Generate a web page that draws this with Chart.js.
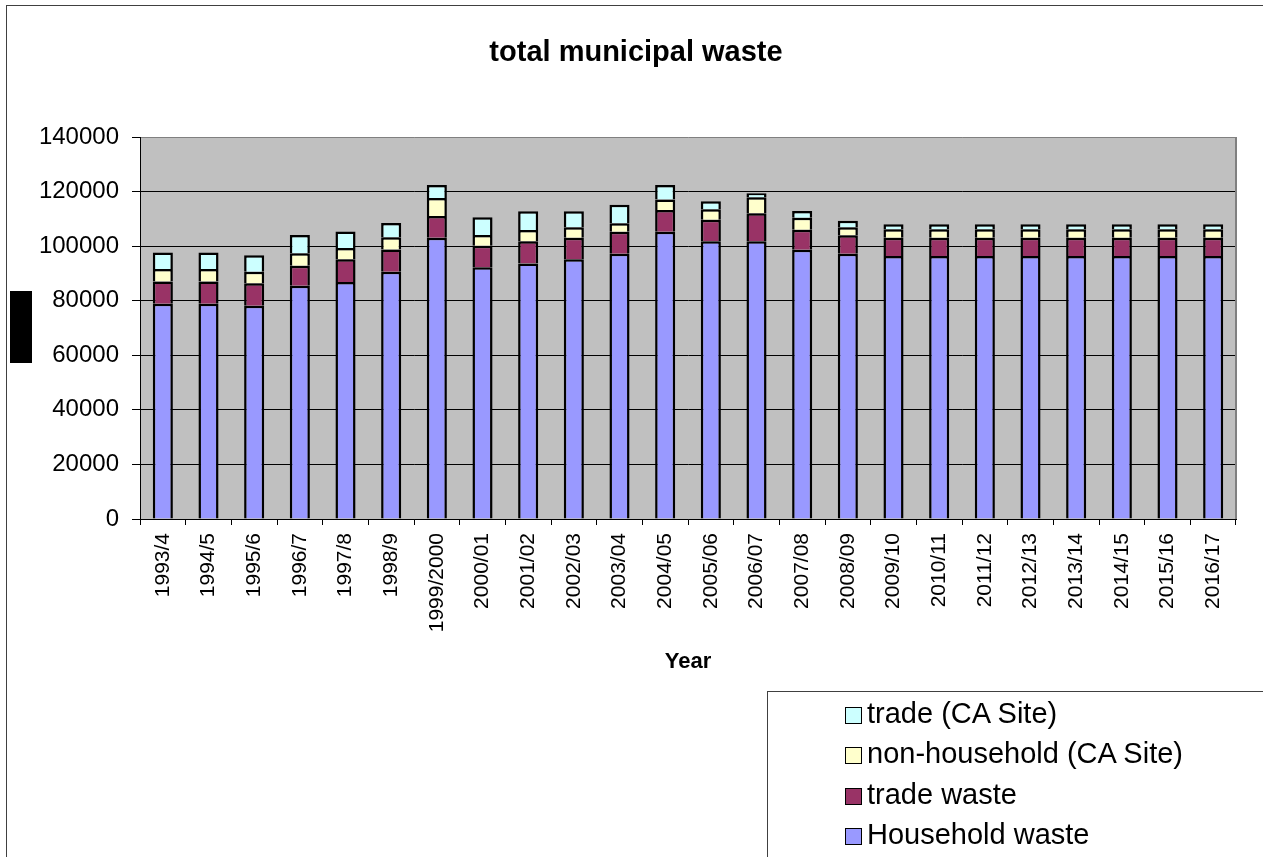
<!DOCTYPE html>
<html>
<head>
<meta charset="utf-8">
<title>total municipal waste</title>
<script src="https://cdn.jsdelivr.net/npm/chart.js@4/dist/chart.umd.min.js"></script>
<style>
  body { margin: 0; background: #fff; }
  #wrap { position: relative; width: 1263px; height: 857px; overflow: hidden; }
  #grafico { position: absolute; left: 0; top: 0; }
  #leyenda {
    position: absolute; left: 767px; top: 691px; width: 600px; height: 300px;
    border-left: 1px solid #404040; border-top: 1px solid #404040;
    font-family: "Liberation Sans", Arial, sans-serif; font-size: 29px; color: #000;
  }
  .item { position: absolute; left: 77px; height: 34px; line-height: 34px; white-space: nowrap; }
  .item span.caja {
    display: inline-block; width: 15px; height: 15px; border: 1.5px solid #000;
    margin-right: 5px; vertical-align: -1px;
  }
</style>
</head>
<body>
<div id="wrap">
  <canvas id="grafico" width="1263" height="857"></canvas>
  <div id="leyenda"></div>
</div>
<script>
// años fiscales
const anios = ["1993/4", "1994/5", "1995/6", "1996/7", "1997/8", "1998/9", "1999/2000",
  "2000/01", "2001/02", "2002/03", "2003/04", "2004/05", "2005/06", "2006/07", "2007/08",
  "2008/09", "2009/10", "2010/11", "2011/12", "2012/13", "2013/14", "2014/15", "2015/16", "2016/17"];

// toneladas por tipo de residuo
const residuoDomestico = [78900, 78900, 78200, 85500, 86900, 90600, 103100, 92250, 93600, 95200,
  97200, 105300, 101800, 101800, 98700, 97200, 96400, 96400, 96400, 96400, 96400, 96400, 96400, 96400];
const residuoComercial = [8100, 8100, 8200, 7300, 8300, 8200, 7950, 7900, 8200, 7900,
  8100, 7950, 7900, 10250, 7350, 6750, 6700, 6700, 6700, 6700, 6700, 6700, 6700, 6700];
const noDomesticoCA = [4650, 4650, 4250, 4550, 4150, 4500, 6600, 3900, 4150, 3800,
  3050, 3800, 3800, 5850, 4400, 2950, 3050, 3050, 3050, 3050, 3050, 3050, 3050, 3050];
const comercialCA = [6000, 6000, 6000, 6700, 6000, 5150, 4750, 6500, 6850, 5850,
  6800, 5400, 2950, 1450, 2450, 2400, 1850, 1850, 1850, 1850, 1850, 1850, 1850, 1850];

// marcas del eje y
const marcasY = [0, 20000, 40000, 60000, 80000, 100000, 120000, 140000];

const titulo = "total municipal waste";
const fuente = '"Liberation Sans", Arial, sans-serif';

const series = [
  { label: "Household waste", data: residuoDomestico, color: "#9999FF" },
  { label: "trade waste", data: residuoComercial, color: "#993366" },
  { label: "non-household (CA Site)", data: noDomesticoCA, color: "#FFFFCC" },
  { label: "trade (CA Site)", data: comercialCA, color: "#CCFFFF" }
];

// fondo gris, título, borde del gráfico y bloque negro a la izquierda
const decoracion = {
  id: "decoracion",
  beforeDraw(chart) {
    const { ctx, chartArea } = chart;
    ctx.save();
    ctx.fillStyle = "#C0C0C0";
    ctx.fillRect(chartArea.left, chartArea.top, chartArea.right - chartArea.left, chartArea.bottom - chartArea.top);
    ctx.restore();
  },
  afterDraw(chart) {
    const { ctx, chartArea } = chart;
    ctx.save();
    ctx.strokeStyle = "#808080";
    ctx.lineWidth = 2;
    ctx.beginPath();
    ctx.moveTo(chartArea.right, chartArea.top);
    ctx.lineTo(chartArea.right, chartArea.bottom);
    ctx.stroke();
    ctx.strokeStyle = "#404040";
    ctx.lineWidth = 1;
    ctx.strokeRect(6.5, 5.5, 1400, 1000);
    ctx.fillStyle = "#000";
    ctx.fillRect(10, 291, 22, 72);
    ctx.font = "bold 29px " + fuente;
    ctx.textAlign = "center";
    ctx.textBaseline = "middle";
    ctx.fillText(titulo, 636, 53);
    ctx.restore();
  }
};

const ctx = document.getElementById("grafico").getContext("2d");
const grafico = new Chart(ctx, {
  type: "bar",
  data: {
    labels: anios,
    datasets: series.map(s => ({
      label: s.label,
      data: s.data,
      backgroundColor: s.color,
      borderColor: "#000",
      borderWidth: 2.5,
      barPercentage: 0.44,
      categoryPercentage: 1
    }))
  },
  options: {
    responsive: false,
    animation: false,
    layout: { padding: { left: 0, right: 27, top: 137, bottom: 0 } },
    plugins: {
      legend: { display: false },
      tooltip: { enabled: false },
      title: { display: false }
    },
    scales: {
      x: {
        stacked: true,
        afterFit(scale) { scale.height = 338; },
        grid: { display: true, drawOnChartArea: false, drawTicks: true, tickLength: 6, color: "#000", offset: true },
        border: { color: "#000", width: 1 },
        ticks: {
          color: "#000", autoSkip: false, minRotation: 90, maxRotation: 90, padding: 8,
          font: { family: fuente, size: 21 }
        },
        title: {
          display: true, text: "Year", color: "#000",
          font: { family: fuente, size: 22, weight: "bold" },
          padding: { top: 4, bottom: 182 }
        }
      },
      y: {
        stacked: true,
        min: marcasY[0],
        max: marcasY[marcasY.length - 1],
        afterFit(scale) { scale.width = 140; },
        afterBuildTicks(scale) { scale.ticks = marcasY.map(v => ({ value: v })); },
        grid: {
          color: c => (c.tick && c.tick.value === 140000 ? "#808080" : "#000"),
          tickColor: "#000",
          tickLength: 8,
          lineWidth: 1
        },
        border: { color: "#000", width: 1 },
        ticks: {
          color: "#000", padding: 13,
          font: { family: fuente, size: 24 },
          callback: v => String(v)
        }
      }
    }
  },
  plugins: [decoracion]
});

// leyenda en orden inverso al apilado
const leyenda = document.getElementById("leyenda");
const filasY = [4, 44, 85, 125];
series.slice().reverse().forEach((s, i) => {
  const item = document.createElement("div");
  item.className = "item";
  item.style.top = filasY[i] + "px";
  item.innerHTML = `<span class="caja" style="background:${s.color}"></span>${s.label}`;
  leyenda.appendChild(item);
});
</script>
</body>
</html>
